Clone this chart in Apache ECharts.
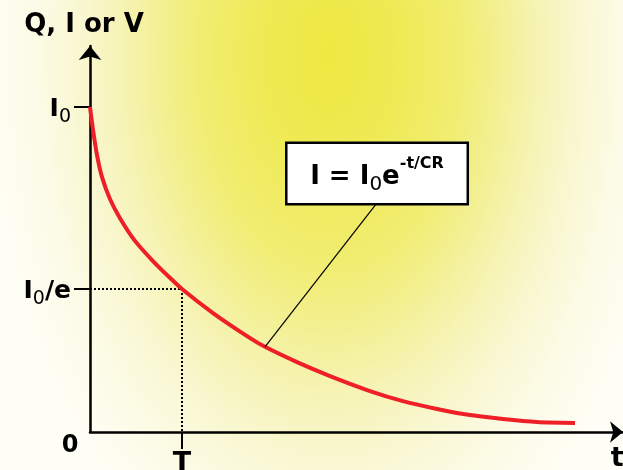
<!DOCTYPE html>
<html>
<head>
<meta charset="utf-8">
<script src="https://cdn.jsdelivr.net/npm/echarts@6/dist/echarts.min.js"></script>
<style>
  html, body { margin: 0; padding: 0; }
  body {
    width: 623px; height: 470px; overflow: hidden;
    background: radial-gradient(ellipse 345px 560px at 330px 55px,
      #eee940 0%, #efea55 20%, #f1ed72 38%, #f3f095 50%, #f6f3b3 60%, #f9f7d0 72%, #fcfbe6 85%, #fefef6 100%);
  }
  #chart { width: 623px; height: 470px; }
</style>
</head>
<body>
<div id="chart"></div>
<script>
// time in units of T (time constant), current in units of I0
const curveT = [0, 0.033, 0.076, 0.130, 0.217, 0.326, 0.489, 0.674, 0.848, 1.0, 1.337, 1.707, 1.902, 2.25, 2.609, 3.043, 3.402, 3.772, 4.13, 4.489, 4.859, 5.272];
const curveI = [1, 0.929, 0.852, 0.785, 0.717, 0.658, 0.588, 0.529, 0.48, 0.44, 0.366, 0.295, 0.262, 0.215, 0.172, 0.126, 0.095, 0.071, 0.052, 0.040, 0.031, 0.028];
const levelI0 = 1;
const levelI0e = 0.44;
const timeT = 1;
const leaderFrom = [1.902, 0.262];
const leaderTo = [3.12, 0.705];
const yTickLabels = ['{a|I}{s|0}', '{a|I}{s|0}{a|/e}'];
const yAxisName = 'Q, I or V';
const xAxisName = 't';

const chart = echarts.init(document.getElementById('chart'));
const FONT = 'DejaVu Sans';

const curveData = curveT.map((t, i) => [t, curveI[i]]);

chart.setOption({
  backgroundColor: 'transparent',
  animation: false,
  grid: { left: 90, right: 0, top: 46, bottom: 38, containLabel: false, outerBoundsMode: 'none' },
  xAxis: {
    type: 'value', min: 0, max: 5.7935,
    splitLine: { show: false },
    axisLine: { show: true, lineStyle: { color: '#000', width: 2.5 }, symbol: ['none', 'arrow'], symbolSize: [16, 13] },
    axisTick: { show: true, customValues: [timeT], length: 17, inside: false, lineStyle: { color: '#000', width: 2 } },
    axisLabel: {
      show: true, customValues: [0, timeT, 5.73], margin: 2,
      fontFamily: FONT, fontWeight: 'bold', fontSize: 24, color: '#000',
      formatter: function (v) {
        if (v === 0) return '{z|0}';
        if (v === timeT) return '{t|T}';
        return '{n|' + xAxisName + '}';
      },
      rich: {
        z: { fontFamily: FONT, fontWeight: 'bold', fontSize: 24, color: '#000', padding: [0, 40, 0, 0] },
        t: { fontFamily: FONT, fontWeight: 'bold', fontSize: 27, color: '#000', padding: [16, 0, 0, 0] },
        n: { fontFamily: FONT, fontWeight: 'bold', fontSize: 27, color: '#000', padding: [11, 0, 0, 0] }
      }
    }
  },
  yAxis: {
    type: 'value', min: 0, max: 1.1877,
    name: yAxisName, nameLocation: 'end', nameGap: 8,
    nameTextStyle: { fontFamily: FONT, fontWeight: 'bold', fontSize: 26, color: '#000', align: 'center', verticalAlign: 'bottom', padding: [0, 0, 0, -12] },
    splitLine: { show: false },
    axisLine: { show: true, lineStyle: { color: '#000', width: 2.5 }, symbol: ['none', 'arrow'], symbolSize: [17, 14] },
    axisTick: { show: true, customValues: [levelI0, levelI0e], length: 16, lineStyle: { color: '#000', width: 2 } },
    axisLabel: {
      show: true, customValues: [levelI0, levelI0e], margin: 19,
      formatter: function (v) { return v === levelI0 ? yTickLabels[0] : yTickLabels[1]; },
      rich: {
        a: { fontFamily: FONT, fontWeight: 'bold', fontSize: 25, color: '#000', lineHeight: 30, verticalAlign: 'bottom' },
        s: { fontFamily: FONT, fontSize: 19, color: '#000', lineHeight: 30, verticalAlign: 'bottom', padding: [0, 0, -5, 0] }
      }
    }
  },
  series: [
    {
      type: 'line', data: curveData, smooth: 0.25, symbol: 'none',
      lineStyle: { color: '#ee1f26', width: 4 }, z: 3
    },
    {
      type: 'line', data: [[0, levelI0e], [timeT, levelI0e], [timeT, 0]], symbol: 'none',
      lineStyle: { color: '#000', width: 2, type: [2, 2] }, z: 2
    },
    {
      type: 'line', symbol: 'circle', symbolSize: 0, showSymbol: true,
      lineStyle: { color: '#000', width: 1.2 }, z: 4,
      data: [
        { value: leaderFrom },
        {
          value: leaderTo,
          label: {
            show: true, position: 'top', distance: 0,
            backgroundColor: '#fff', borderColor: '#000', borderWidth: 2.5,
            width: 147, height: 35, padding: [12, 16],
            formatter: '{m|I = I}{s|0}{m|e}{p|-t/CR}',
            rich: {
              m: { fontFamily: FONT, fontWeight: 'bold', fontSize: 26, color: '#000', lineHeight: 34, verticalAlign: 'bottom' },
              s: { fontFamily: FONT, fontSize: 20, color: '#000', lineHeight: 34, verticalAlign: 'bottom', padding: [0, 0, -5, 0] },
              p: { fontFamily: FONT, fontWeight: 'bold', fontSize: 16, color: '#000', lineHeight: 34, verticalAlign: 'top', padding: [0, 0, 0, 0] }
            }
          }
        }
      ]
    }
  ]
});
</script>
</body>
</html>
